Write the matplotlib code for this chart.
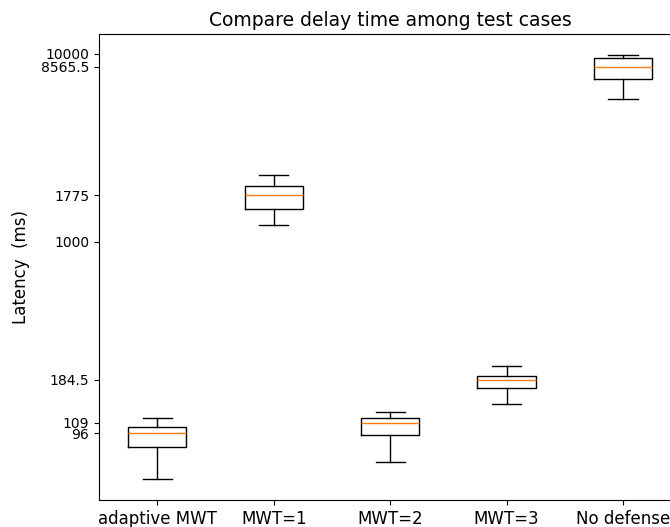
import matplotlib
matplotlib.use("Agg")
import matplotlib.pyplot as plt
from matplotlib.ticker import NullLocator

cases = ["adaptive MWT", "MWT=1", "MWT=2", "MWT=3", "No defense"]
med = [96, 1775, 109, 184.5, 8565.5]
q1 = [80.9, 1498, 93.8, 167.3, 7390]
q3 = [104.1, 1986, 116.3, 193, 9490]
whislo = [54.7, 1227, 67.6, 137, 5741]
whishi = [115.9, 2270, 125.1, 219.8, 9879]

yticks = [96, 109, 184.5, 1000, 1775, 8565.5, 10000]
yticklabels = ["96", "109", "184.5", "1000", "1775", "8565.5", "10000"]

stats = []
for i, name in enumerate(cases):
    stats.append({
        "label": name,
        "med": med[i],
        "q1": q1[i],
        "q3": q3[i],
        "whislo": whislo[i],
        "whishi": whishi[i],
        "fliers": [],
    })

fig = plt.figure(figsize=(6.7, 5.27), dpi=100)
# axes run slightly past the right edge of the canvas
ax = fig.add_axes([0.1478, 0.0507, 0.869, 0.885])
ax.bxp(stats, showfliers=False)

ax.set_yscale("log")
ax.set_ylim(42.3, 12770)
ax.set_yticks(yticks)
ax.set_yticklabels(yticklabels)
ax.yaxis.set_minor_locator(NullLocator())
ax.tick_params(axis="x", labelsize=12)
ax.tick_params(axis="y", labelsize=10)

ax.set_ylabel("Latency  (ms)", fontsize=12)
ax.yaxis.set_label_coords(-0.118, 0.5)
ax.set_title("Compare delay time among test cases", fontsize=13.5)

fig.savefig("out.png", dpi=100)
